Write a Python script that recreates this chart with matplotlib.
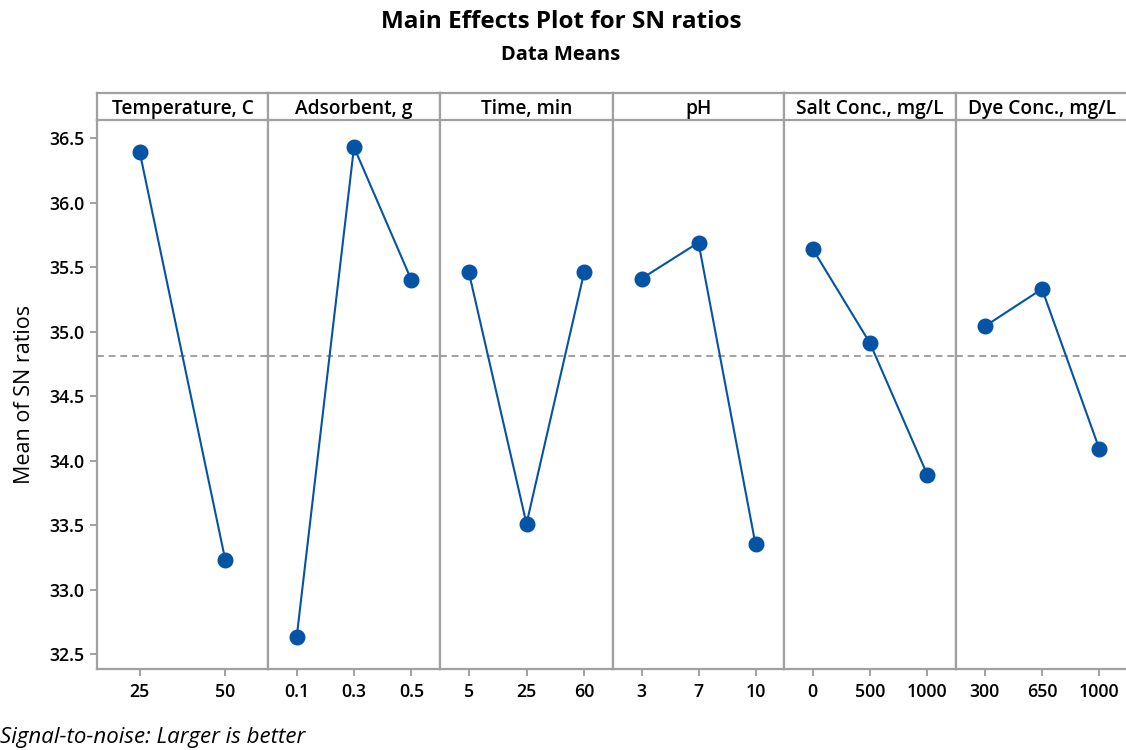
import matplotlib
matplotlib.use("Agg")
import matplotlib.pyplot as plt

plt.rcParams['font.family'] = ['Open Sans', 'DejaVu Sans']

factors = ["Temperature, C", "Adsorbent, g", "Time, min", "pH", "Salt Conc., mg/L", "Dye Conc., mg/L"]
levels = [["25", "50"], ["0.1", "0.3", "0.5"], ["5", "25", "60"], ["3", "7", "10"],
          ["0", "500", "1000"], ["300", "650", "1000"]]
temperature_sn = [36.39, 33.23]
adsorbent_sn = [32.63, 36.43, 35.40]
time_sn = [35.46, 33.51, 35.46]
ph_sn = [35.41, 35.69, 33.35]
salt_sn = [35.64, 34.91, 33.89]
dye_sn = [35.04, 35.33, 34.09]
series = [temperature_sn, adsorbent_sn, time_sn, ph_sn, salt_sn, dye_sn]
overall_mean = 34.81
yticks = [32.5, 33.0, 33.5, 34.0, 34.5, 35.0, 35.5, 36.0, 36.5]

W, H = 1126, 750
fig = plt.figure(figsize=(W / 100, H / 100), dpi=100)

edges = [97, 268, 440, 613, 784, 956, 1128]
top_px, bot_px, head_top = 120, 669, 93
grey = "#A0A0A0"
blue = "#0453A5"
ylim = (32.384, 36.64)

for i, name in enumerate(factors):
    x0, x1 = edges[i], edges[i + 1]
    ax = fig.add_axes([x0 / W, (H - bot_px) / H, (x1 - x0) / W, (bot_px - top_px) / H])
    n = len(levels[i])
    xs = list(range(1, n + 1))
    ax.plot(xs, series[i], color=blue, lw=1.5, marker='o', ms=10.5, mfc=blue, mec=blue, zorder=3)
    ax.axhline(overall_mean, color=grey, lw=1.4, ls=(0, (3.5, 2.5)), zorder=2)
    ax.set_xlim(0.5, n + 0.5)
    ax.set_ylim(*ylim)
    ax.set_xticks(xs)
    ax.set_xticklabels(levels[i], fontsize=12.8, fontweight='semibold')
    for s in ax.spines.values():
        s.set_color(grey)
        s.set_linewidth(1.6)
    ax.spines['top'].set_visible(False)
    ax.tick_params(axis='x', colors=grey, length=5, width=1.4, labelcolor='black', pad=5)
    if i == 0:
        ax.set_yticks(yticks)
        ax.set_yticklabels([f"{v:.1f}" for v in yticks], fontsize=12.8, fontweight='semibold')
        ax.tick_params(axis='y', colors=grey, length=5, width=1.4, labelcolor='black', pad=4)
        ax.set_ylabel("Mean of SN ratios", fontsize=15.5, labelpad=10)
    else:
        ax.set_yticks([])
    # header strip
    hx = fig.add_axes([x0 / W, (H - top_px) / H, (x1 - x0) / W, (top_px - head_top) / H])
    hx.set_xticks([]); hx.set_yticks([])
    for s in hx.spines.values():
        s.set_color(grey)
        s.set_linewidth(1.6)
    hx.text(0.5, 0.42, name, ha='center', va='center', fontsize=13.8, fontweight='semibold',
            transform=hx.transAxes)

fig.text(561 / W, 1 - 22 / H, "Main Effects Plot for SN ratios", ha='center', va='center',
         fontsize=17.5, fontweight='bold')
fig.text(561 / W, 1 - 55 / H, "Data Means", ha='center', va='center',
         fontsize=14.5, fontweight='bold')
fig.text(0 / W, 1 - 738 / H, "Signal-to-noise: Larger is better", ha='left', va='center',
         fontsize=16, style='italic')

fig.savefig("out.png", dpi=100)
